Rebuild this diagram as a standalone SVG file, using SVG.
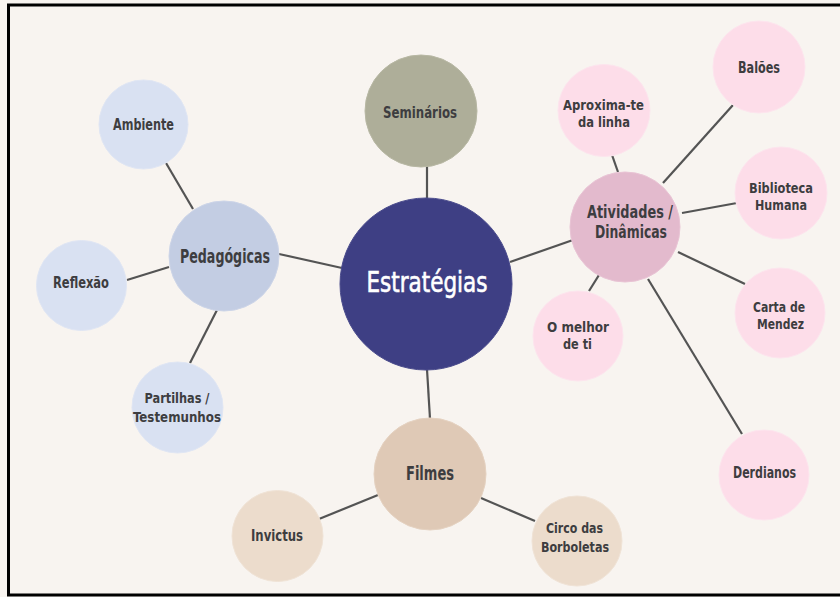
<svg xmlns="http://www.w3.org/2000/svg" width="840" height="597" viewBox="0 0 840 597">
  <style>
    .link { stroke: #545454; stroke-width: 2.2; fill: none; }
    .node circle { stroke-width: 1; }
    .lbl { font-family: "DejaVu Sans Condensed", "Liberation Sans", sans-serif; font-stretch: condensed; fill: #3d3d40; text-anchor: middle; font-size: 16px; font-weight: bold; }
    .two { font-size: 14.5px; }
    .big { font-size: 19px; }
    .big2 { font-size: 17.5px; }
    .hub { font-size: 29px; fill: #ffffff; font-weight: normal; stroke: #ffffff; stroke-width: 0.6; }
    .c-main { fill: #3e3f84; stroke: #4a4b8c; }
    .c-sem { fill: #aeae99; stroke: #b8b8a4; }
    .c-ped { fill: #c3cde3; stroke: #cdd5e8; }
    .c-ped2 { fill: #d9e1f2; stroke: #e0e6f4; }
    .c-atv { fill: #e3bacd; stroke: #e9c4d5; }
    .c-atv2 { fill: #fddde9; stroke: #fde5ee; }
    .c-fil { fill: #dfc9b6; stroke: #e5d2c1; }
    .c-fil2 { fill: #ecdccc; stroke: #f0e3d6; }
  </style>

  <!-- page background and frame -->
  <rect x="0" y="0" width="840" height="597" fill="#f8f4f0"/>
  <rect x="8.5" y="5" width="840" height="590" fill="none" stroke="#000000" stroke-width="3"/>

  <!-- connectors -->
  <g id="connectors">
    <line class="link" x1="166" y1="163" x2="193" y2="209"/>
    <line class="link" x1="127" y1="280" x2="169" y2="267"/>
    <line class="link" x1="190" y1="363" x2="217" y2="310"/>
    <line class="link" x1="279" y1="254" x2="342" y2="268"/>
    <line class="link" x1="427" y1="166" x2="427" y2="199"/>
    <line class="link" x1="510" y1="262" x2="573" y2="240"/>
    <line class="link" x1="427" y1="369" x2="430" y2="419"/>
    <line class="link" x1="612" y1="155" x2="618" y2="172"/>
    <line class="link" x1="733" y1="105" x2="663" y2="183"/>
    <line class="link" x1="737" y1="203" x2="682" y2="213"/>
    <line class="link" x1="678" y1="252" x2="745" y2="284"/>
    <line class="link" x1="589" y1="291" x2="599" y2="275"/>
    <line class="link" x1="648" y1="279" x2="742" y2="434"/>
    <line class="link" x1="319" y1="519" x2="378" y2="495"/>
    <line class="link" x1="481" y1="498" x2="535" y2="521"/>
  </g>

  <!-- centre -->
  <g id="estrategias" class="node">
    <circle class="c-main" cx="426" cy="284" r="86"/>
    <text class="lbl hub" x="427" y="292" textLength="121" lengthAdjust="spacingAndGlyphs">Estratégias</text>
  </g>

  <!-- top -->
  <g id="seminarios" class="node">
    <circle class="c-sem" cx="421" cy="111" r="56"/>
    <text class="lbl" x="420" y="118" textLength="74" lengthAdjust="spacingAndGlyphs">Seminários</text>
  </g>

  <!-- left branch -->
  <g id="pedagogicas" class="node">
    <circle class="c-ped" cx="224" cy="256" r="55"/>
    <text class="lbl big" x="225" y="263" textLength="90" lengthAdjust="spacingAndGlyphs">Pedagógicas</text>
  </g>
  <g id="ambiente" class="node">
    <circle class="c-ped2" cx="143.5" cy="124.5" r="44.5"/>
    <text class="lbl" x="143.5" y="130" textLength="61" lengthAdjust="spacingAndGlyphs">Ambiente</text>
  </g>
  <g id="reflexao" class="node">
    <circle class="c-ped2" cx="81.5" cy="285.5" r="45"/>
    <text class="lbl" x="81" y="288" textLength="56" lengthAdjust="spacingAndGlyphs">Reflexão</text>
  </g>
  <g id="partilhas" class="node">
    <circle class="c-ped2" cx="177.5" cy="407.5" r="45.5"/>
    <text class="lbl two" x="177" y="403" textLength="65" lengthAdjust="spacingAndGlyphs">Partilhas /</text>
    <text class="lbl two" x="177" y="422" textLength="88" lengthAdjust="spacingAndGlyphs">Testemunhos</text>
  </g>

  <!-- right branch -->
  <g id="atividades" class="node">
    <circle class="c-atv" cx="625" cy="227" r="55"/>
    <text class="lbl big2" x="630" y="218" textLength="86" lengthAdjust="spacingAndGlyphs">Atividades /</text>
    <text class="lbl big2" x="631" y="238" textLength="72" lengthAdjust="spacingAndGlyphs">Dinâmicas</text>
  </g>
  <g id="aproxima" class="node">
    <circle class="c-atv2" cx="604" cy="110.5" r="46"/>
    <text class="lbl two" x="603.5" y="110" textLength="81" lengthAdjust="spacingAndGlyphs">Aproxima-te</text>
    <text class="lbl two" x="604" y="127" textLength="52" lengthAdjust="spacingAndGlyphs">da linha</text>
  </g>
  <g id="baloes" class="node">
    <circle class="c-atv2" cx="759" cy="67" r="46"/>
    <text class="lbl" x="759" y="73" textLength="42" lengthAdjust="spacingAndGlyphs">Balões</text>
  </g>
  <g id="biblioteca" class="node">
    <circle class="c-atv2" cx="781" cy="193" r="46"/>
    <text class="lbl two" x="781" y="193" textLength="64" lengthAdjust="spacingAndGlyphs">Biblioteca</text>
    <text class="lbl two" x="781" y="210" textLength="52" lengthAdjust="spacingAndGlyphs">Humana</text>
  </g>
  <g id="carta" class="node">
    <circle class="c-atv2" cx="780" cy="313" r="45"/>
    <text class="lbl two" x="779" y="312" textLength="52" lengthAdjust="spacingAndGlyphs">Carta de</text>
    <text class="lbl two" x="780.5" y="329" textLength="47" lengthAdjust="spacingAndGlyphs">Mendez</text>
  </g>
  <g id="melhor" class="node">
    <circle class="c-atv2" cx="578" cy="336" r="45"/>
    <text class="lbl two" x="578" y="332" textLength="62" lengthAdjust="spacingAndGlyphs">O melhor</text>
    <text class="lbl two" x="577.5" y="349" textLength="29" lengthAdjust="spacingAndGlyphs">de ti</text>
  </g>
  <g id="derdianos" class="node">
    <circle class="c-atv2" cx="764" cy="475" r="45"/>
    <text class="lbl" x="764.5" y="478" textLength="63" lengthAdjust="spacingAndGlyphs">Derdianos</text>
  </g>

  <!-- bottom branch -->
  <g id="filmes" class="node">
    <circle class="c-fil" cx="430" cy="474" r="56"/>
    <text class="lbl big" x="430" y="480" textLength="48" lengthAdjust="spacingAndGlyphs">Filmes</text>
  </g>
  <g id="invictus" class="node">
    <circle class="c-fil2" cx="277.5" cy="536" r="45.5"/>
    <text class="lbl" x="277" y="541" textLength="52" lengthAdjust="spacingAndGlyphs">Invictus</text>
  </g>
  <g id="circo" class="node">
    <circle class="c-fil2" cx="577" cy="541" r="45"/>
    <text class="lbl two" x="574.5" y="533" textLength="57" lengthAdjust="spacingAndGlyphs">Circo das</text>
    <text class="lbl two" x="575" y="552" textLength="68" lengthAdjust="spacingAndGlyphs">Borboletas</text>
  </g>
</svg>
